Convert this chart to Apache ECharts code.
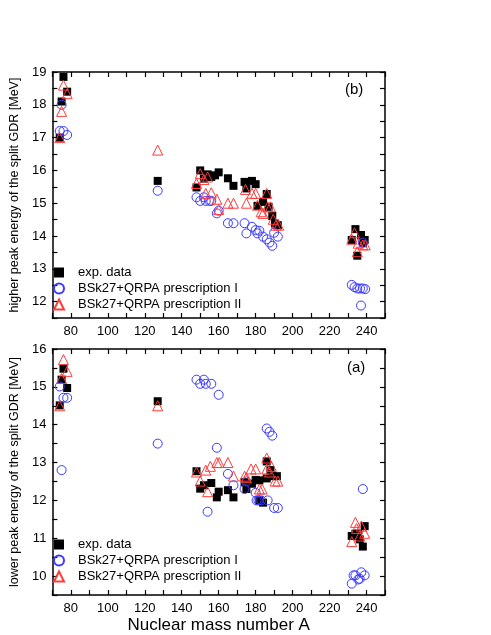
<!DOCTYPE html>
<html>
<head>
<meta charset="utf-8">
<script src="https://cdn.jsdelivr.net/npm/echarts@6/dist/echarts.min.js"></script>
<style>
  html, body { margin: 0; padding: 0; background: #fff; }
  #chart { width: 491px; height: 635px; }
</style>
</head>
<body>
<div id="chart"></div>
<script>
// higher peak (panel b)
const highExpA = [74, 75, 76, 78, 127, 148, 150, 152, 154, 156, 158, 160, 165, 168, 174, 175, 178, 180, 181, 184, 186, 187, 189, 190.5, 192, 232, 234, 235, 237, 238, 239]
const highExpE = [17.0, 18.1, 18.85, 18.4, 15.68, 15.48, 16.0, 15.75, 15.88, 15.8, 15.85, 15.94, 15.76, 15.53, 15.65, 15.45, 15.68, 15.58, 14.92, 15.04, 15.28, 14.89, 14.61, 14.38, 14.33, 13.88, 14.21, 13.4, 14.03, 13.78, 13.88]
const highIA = [74, 75, 76, 78, 127, 148, 150, 152, 153, 155, 156, 159, 160, 165, 168, 174, 175, 178, 180, 181, 182, 184, 186, 187.5, 189, 190, 192, 232, 233.5, 235, 236.5, 238, 239.3, 237, 238]
const highIE = [17.2, 18.0, 17.2, 17.08, 15.38, 15.18, 15.07, 15.18, 15.07, 15.07, 15.07, 14.69, 14.77, 14.39, 14.39, 14.39, 14.08, 14.28, 14.18, 14.08, 14.16, 13.98, 13.9, 13.8, 13.7, 14.1, 13.98, 12.51, 12.44, 12.4, 12.4, 12.4, 12.38, 11.88, 13.8]
const highIIA = [74, 75, 76, 78, 127, 148, 150, 152, 154, 153, 156, 159, 160, 165, 168, 174.5, 175, 178, 180, 181, 183, 184, 186, 186.5, 188, 189.5, 191, 192.5, 232, 233.5, 235.5, 238, 239.3, 235]
const highIIE = [17.0, 17.8, 18.6, 18.34, 16.62, 15.6, 15.9, 15.72, 15.8, 15.3, 15.32, 15.12, 14.81, 15.0, 15.0, 15.42, 15.0, 15.3, 15.3, 14.94, 14.74, 14.69, 15.3, 14.89, 14.89, 14.51, 14.33, 14.33, 13.9, 14.1, 13.78, 13.73, 13.73, 13.52]

// lower peak (panel a)
const lowExpA = [74, 75, 76, 78, 127, 148, 150, 152, 156, 159, 160, 165, 168, 174, 175, 178, 180, 182, 182, 184, 186, 186, 188, 189, 191.5, 232, 234, 235.5, 236.3, 238, 239]
const lowExpE = [14.51, 15.19, 15.48, 14.97, 14.62, 12.77, 12.31, 12.4, 12.46, 12.08, 12.23, 12.27, 12.08, 12.48, 12.3, 12.44, 12.54, 12.53, 12.0, 11.94, 13.03, 12.58, 12.8, 12.64, 12.64, 11.06, 11.12, 11.12, 10.97, 10.78, 11.32]
const lowIA = [74, 75, 76, 78, 127, 148, 150, 152, 153, 156, 160, 159, 154, 165, 168, 174, 175, 180, 180.5, 181.5, 183, 186.5, 186, 187.5, 189, 190, 192, 232, 233, 234, 235.5, 236.3, 237.2, 239, 238]
const lowIE = [15.01, 12.8, 14.71, 14.71, 13.5, 15.19, 15.08, 15.19, 15.08, 15.08, 14.79, 13.39, 11.7, 12.7, 12.4, 12.3, 12.5, 12.2, 12.0, 12.0, 12.0, 12.0, 13.9, 13.81, 13.71, 11.8, 11.8, 9.8, 10.02, 10.02, 9.91, 9.93, 10.1, 10.02, 12.3]
const lowIIA = [74, 75, 76, 78, 127, 148, 150, 153, 154, 155.5, 159, 160.3, 165, 168, 174, 175, 177.5, 180, 182, 183.5, 186, 186, 187.5, 188.5, 190.5, 192, 232, 234, 234.6, 236.3, 237.2, 239]
const lowIIE = [14.5, 15.22, 15.72, 15.41, 14.5, 12.75, 12.51, 12.8, 12.23, 12.9, 13.0, 13.0, 13.0, 12.64, 12.64, 12.6, 12.83, 12.83, 12.3, 12.3, 13.12, 12.83, 12.75, 12.9, 12.51, 12.51, 10.91, 11.42, 11.26, 11.06, 11.32, 11.13]

const seriesNames = ['exp. data', 'BSk27+QRPA prescription I', 'BSk27+QRPA prescription II']
const highYLabel = 'higher peak energy of the split GDR [MeV]'
const lowYLabel = 'lower peak energy of the split GDR [MeV]'
const xLabel = 'Nuclear mass number A'

const FONT = 'Liberation Sans, Arial, sans-serif'
const zip = (xs, ys) => xs.map((x, i) => [x, ys[i]])

const tickStyle = { inside: true, length: 5, lineStyle: { color: '#000', width: 1.2 } }
const lineStyle = { show: true, onZero: false, lineStyle: { color: '#000', width: 1.5 } }

const xAxisFor = (grid, pos, withLabels, name) => ({
  type: 'value', gridIndex: grid, position: pos,
  min: 70, max: 250, interval: 10,
  axisLine: lineStyle, axisTick: tickStyle,
  splitLine: { show: false },
  axisLabel: {
    show: withLabels, color: '#000', fontFamily: FONT, fontSize: 13, margin: 7,
    formatter: v => (v % 20 === 0 && v > 70 && v < 250) ? String(v) : ''
  },
  name: name || '', nameLocation: 'middle', nameGap: 22,
  nameTextStyle: { color: '#000', fontFamily: FONT, fontSize: 17 }
})

const yAxisFor = (grid, pos, min, max, withLabels, name) => ({
  type: 'value', gridIndex: grid, position: pos,
  min: min, max: max, interval: 0.5,
  axisLine: lineStyle, axisTick: tickStyle,
  splitLine: { show: false },
  axisLabel: {
    show: withLabels, color: '#000', fontFamily: FONT, fontSize: 13, margin: 6,
    formatter: v => Number.isInteger(v) ? String(v) : ''
  },
  name: name || '', nameLocation: 'middle', nameGap: 24, nameRotate: 90,
  nameTextStyle: { color: '#000', fontFamily: FONT, fontSize: 12.5 }
})

const squareStyle = { symbol: 'rect', symbolSize: 8, itemStyle: { color: '#000', opacity: 1 } }
const circleStyle = { symbol: 'circle', symbolSize: 9, itemStyle: { color: 'rgba(0,0,0,0)', borderColor: '#3a3aff', borderWidth: 1, opacity: 1 } }
const triStyle = { symbol: 'triangle', symbolSize: 10, itemStyle: { color: 'rgba(0,0,0,0)', borderColor: '#ff3b3b', borderWidth: 1, opacity: 1 } }

const mkSeries = (name, axis, data, style) => Object.assign({
  name: name, type: 'scatter', xAxisIndex: axis, yAxisIndex: axis, data: data, z: 3
}, style)

const legendFor = (top) => ({
  orient: 'vertical', left: 48, top: top,
  itemWidth: 10, itemHeight: 10, itemGap: 3,
  data: seriesNames,
  textStyle: { color: '#000', fontFamily: FONT, fontSize: 13, padding: [0, 0, 0, 9] },
  selectedMode: false
})

const option = {
  backgroundColor: '#fff',
  animation: false,
  grid: [
    { left: 36, top: 72, width: 349, height: 246 },
    { left: 36, top: 349, width: 349, height: 246 }
  ],
  xAxis: [
    xAxisFor(0, 'bottom', true),
    xAxisFor(1, 'bottom', true, xLabel),
    xAxisFor(0, 'top', false),
    xAxisFor(1, 'top', false)
  ],
  yAxis: [
    yAxisFor(0, 'left', 11.5, 19, true, highYLabel),
    yAxisFor(1, 'left', 9.5, 16, true, lowYLabel),
    yAxisFor(0, 'right', 11.5, 19, false),
    yAxisFor(1, 'right', 9.5, 16, false)
  ],
  legend: [legendFor(261), legendFor(533)],
  graphic: [
    { type: 'text', left: 345, top: 82, style: { text: '(b)', font: '15px ' + FONT, fill: '#000' } },
    { type: 'text', left: 347, top: 360, style: { text: '(a)', font: '15px ' + FONT, fill: '#000' } }
  ],
  series: [
    mkSeries(seriesNames[0], 0, zip(highExpA, highExpE), squareStyle),
    mkSeries(seriesNames[1], 0, zip(highIA, highIE), circleStyle),
    mkSeries(seriesNames[2], 0, zip(highIIA, highIIE), triStyle),
    mkSeries(seriesNames[0], 1, zip(lowExpA, lowExpE), squareStyle),
    mkSeries(seriesNames[1], 1, zip(lowIA, lowIE), circleStyle),
    mkSeries(seriesNames[2], 1, zip(lowIIA, lowIIE), triStyle)
  ]
}

const chart = echarts.init(document.getElementById('chart'), null, { renderer: 'canvas' })
chart.setOption(option)
window.addEventListener('resize', () => chart.resize())
</script>
</body>
</html>
